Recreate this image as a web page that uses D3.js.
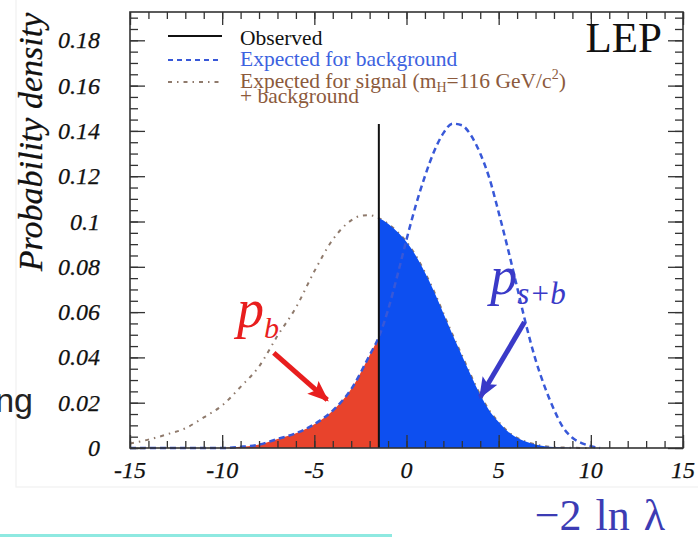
<!DOCTYPE html>
<html>
<head>
<meta charset="utf-8">
<script src="https://cdn.jsdelivr.net/npm/d3@7"></script>
<style>
  body { margin: 0; background: #fff; }
  svg text { font-family: "Liberation Serif", "Times New Roman", serif; }
</style>
</head>
<body>
<div id="plot_area"></div>
<script>
// values
var bgX = [-15,-10,-9,-8,-7,-6,-5,-4,-3,-2,-1.5,-1,-0.5,0,0.5,1,1.5,2,2.5,3,3.5,4,4.5,5,5.5,6,6.5,7,7.5,8,8.5,9,9.5,10,10.5];
var bgY = [0,0,0.0005,0.0015,0.004,0.0065,0.0105,0.0165,0.026,0.041,0.049,0.061,0.076,0.092,0.107,0.120,0.131,0.139,0.1432,0.1425,0.138,0.130,0.119,0.104,0.088,0.071,0.054,0.039,0.027,0.017,0.009,0.0045,0.0022,0.0008,0];
var sbX = [-15,-14,-13,-12,-11,-10,-9,-8,-7,-6,-5,-4,-3,-2.5,-2,-1.5,-1,-0.5,0,0.5,1,1.5,2,2.5,3,3.5,4,4.5,5,5.5,6,7,8,9,10];
var sbY = [0.002,0.0037,0.006,0.0087,0.0135,0.0188,0.027,0.036,0.0495,0.062,0.078,0.092,0.1005,0.1025,0.1028,0.1015,0.099,0.0955,0.091,0.085,0.0775,0.069,0.0595,0.050,0.041,0.032,0.0235,0.0165,0.0115,0.0073,0.0045,0.0016,0.0004,0.0001,0];
var observed = -1.5;
var observedTop = 0.143;
var xMajor = [-15,-10,-5,0,5,10,15];
var xLabels = ["-15","-10","-5","0","5","10","15"];
var yMajor = [0,0.02,0.04,0.06,0.08,0.1,0.12,0.14,0.16,0.18];
var yLabels = ["0","0.02","0.04","0.06","0.08","0.1","0.12","0.14","0.16","0.18"];
var legendNames = ["Observed","Expected for background","Expected for signal"];
// annotation arrows in data units: [x0, y0, x1, y1]
var pbArrow = [-7.2, 0.042, -4.3, 0.0212];
var psbArrow = [6.4, 0.0556, 4.0, 0.0225];

var W = 698, H = 537;
var svg = d3.select('#plot_area').append("svg")
  .attr("width", W).attr("height", H);

var x = d3.scaleLinear().domain([-15, 15]).range([130, 683]);
var y = d3.scaleLinear().domain([0, 0.1925]).range([448, 12]);

// faint slide panel + cyan rule
svg.append("rect").attr("x", 16).attr("y", -2).attr("width", 690).attr("height", 489)
  .attr("fill", "none").attr("stroke", "#f1f1f1").attr("stroke-width", 1.2);
svg.append("line").attr("x1", 0).attr("x2", 392).attr("y1", 535.5).attr("y2", 535.5)
  .attr("stroke", "#8ee9e1").attr("stroke-width", 3);

var bg = bgX.map(function(d, i) { return [d, bgY[i]]; });
var sb = sbX.map(function(d, i) { return [d, sbY[i]]; });

var line = d3.line().x(function(d){ return x(d[0]); }).y(function(d){ return y(d[1]); })
  .curve(d3.curveMonotoneX);
var area = d3.area().x(function(d){ return x(d[0]); }).y0(y(0)).y1(function(d){ return y(d[1]); })
  .curve(d3.curveMonotoneX);

// signal + background
svg.append("path").datum(sb).attr("d", line)
  .attr("fill", "none").attr("stroke", "#8f7a6c").attr("stroke-width", 2)
  .attr("stroke-dasharray", "4,5,1.5,5");

// p_b and p_s+b areas
svg.append("path").datum(bg.filter(function(d){ return d[0] <= observed; })).attr("d", area)
  .attr("fill", "#e8432c");
svg.append("path").datum(sb.filter(function(d){ return d[0] >= observed; })).attr("d", area)
  .attr("fill", "#0d4ff0");

// background
svg.append("path").datum(bg).attr("d", line)
  .attr("fill", "none").attr("stroke", "#3858d8").attr("stroke-width", 2.5)
  .attr("stroke-dasharray", "6,4");

// observed
svg.append("line").attr("x1", x(observed)).attr("x2", x(observed))
  .attr("y1", y(0)).attr("y2", y(observedTop))
  .attr("stroke", "#111").attr("stroke-width", 2);

// ticks on all four sides, pointing in
var xMinor = d3.range(-15, 15.01, 1);
var yMinor = d3.range(0, 0.1926, 0.005);
function ticks(axis, tx, ty, vals, size) {
  svg.append("g").attr("transform", "translate(" + tx + "," + ty + ")")
    .call(axis.tickValues(vals).tickSize(size).tickFormat(""))
    .call(function(g){ g.select(".domain").remove(); g.selectAll(".tick line").attr("stroke", "#333").attr("stroke-width", 1.3); });
}
ticks(d3.axisBottom(x), 0, 448, xMinor, -7);
ticks(d3.axisBottom(x), 0, 448, xMajor, -13);
ticks(d3.axisTop(x), 0, 12, xMinor, -7);
ticks(d3.axisTop(x), 0, 12, xMajor, -13);
ticks(d3.axisLeft(y), 130, 0, yMinor, -8);
ticks(d3.axisLeft(y), 130, 0, yMajor, -15);
ticks(d3.axisRight(y), 683, 0, yMinor, -8);
ticks(d3.axisRight(y), 683, 0, yMajor, -15);

svg.append("rect").attr("x", 130).attr("y", 12).attr("width", 553).attr("height", 436)
  .attr("fill", "none").attr("stroke", "#333").attr("stroke-width", 1.6);

// tick labels
svg.selectAll(".xl").data(xMajor).enter().append("text")
  .attr("x", function(d){ return x(d); }).attr("y", 478)
  .attr("text-anchor", "middle").attr("font-style", "italic").attr("font-size", 24)
  .attr("fill", "#111").attr("stroke", "#111").attr("stroke-width", 0.25)
  .text(function(d, i){ return xLabels[i]; });
svg.selectAll(".yl").data(yMajor).enter().append("text")
  .attr("x", 100).attr("y", function(d){ return y(d) + 8; })
  .attr("text-anchor", "end").attr("font-style", "italic").attr("font-size", 24)
  .attr("fill", "#111").attr("stroke", "#111").attr("stroke-width", 0.25)
  .text(function(d, i){ return yLabels[i]; });

// axis titles
svg.append("text").attr("transform", "translate(42,142) rotate(-90)")
  .attr("text-anchor", "middle").attr("font-style", "italic").attr("font-size", 34)
  .attr("fill", "#111").attr("stroke", "#111").attr("stroke-width", 0.25)
  .text("Probability density");
svg.append("text").attr("x", 665).attr("y", 530).attr("text-anchor", "end")
  .attr("font-size", 44).attr("word-spacing", 3).attr("fill", "#3c3cb4").text("\u22122 ln \u03bb");

svg.append("text").attr("x", 662).attr("y", 52).attr("text-anchor", "end")
  .attr("font-size", 43).attr("fill", "#111").text("LEP");

// legend
var lg = svg.append("g");
lg.append("line").attr("x1", 168).attr("x2", 222).attr("y1", 36).attr("y2", 36)
  .attr("stroke", "#111").attr("stroke-width", 2);
lg.append("line").attr("x1", 168).attr("x2", 222).attr("y1", 60).attr("y2", 60)
  .attr("stroke", "#3858d8").attr("stroke-width", 2).attr("stroke-dasharray", "5,4");
lg.append("line").attr("x1", 168).attr("x2", 222).attr("y1", 82).attr("y2", 82)
  .attr("stroke", "#8f7a6c").attr("stroke-width", 2).attr("stroke-dasharray", "4,5,1.5,5");
lg.append("text").attr("x", 240).attr("y", 45).attr("font-size", 21.5).attr("fill", "#111").text(legendNames[0]);
lg.append("text").attr("x", 240).attr("y", 66).attr("font-size", 21.5).attr("fill", "#3c62e0").text(legendNames[1]);
var sig = lg.append("text").attr("x", 240).attr("y", 88).attr("font-size", 21.5).attr("fill", "#8c5a3c");
sig.append("tspan").text(legendNames[2] + " (m");
sig.append("tspan").attr("font-size", 14).attr("dy", 4).text("H");
sig.append("tspan").attr("dy", -4).text("=116 GeV/c");
sig.append("tspan").attr("font-size", 14).attr("dy", -9).text("2");
sig.append("tspan").attr("dy", 9).text(")");
lg.append("text").attr("x", 240).attr("y", 103).attr("font-size", 21.5).attr("fill", "#8c5a3c").text("+ background");

// side text from the slide
svg.append("text").attr("x", 33).attr("y", 412).attr("text-anchor", "end")
  .style("font-family", "'Liberation Sans', Arial, sans-serif")
  .attr("font-size", 34).attr("fill", "#222").text("ng");

// arrows
var defs = svg.append("defs");
function head(id, col) {
  defs.append("marker").attr("id", id).attr("markerUnits", "userSpaceOnUse")
    .attr("viewBox", "0 0 20 16").attr("refX", 18).attr("refY", 8)
    .attr("markerWidth", 22).attr("markerHeight", 17).attr("orient", "auto")
    .append("path").attr("d", "M0,0L20,8L0,16L4,8Z").attr("fill", col);
}
head("hr", "#e81e1e");
head("hb", "#3a3ac8");
function arrow(a, col, id) {
  svg.append("line").attr("x1", x(a[0])).attr("y1", y(a[1]))
    .attr("x2", x(a[2])).attr("y2", y(a[3]))
    .attr("stroke", col).attr("stroke-width", 5).attr("marker-end", "url(#" + id + ")");
}
arrow(pbArrow, "#e81e1e", "hr");
arrow(psbArrow, "#3a3ac8", "hb");

// p labels
var pb = svg.append("text").attr("x", x(-9.2)).attr("y", y(0.0534))
  .attr("font-style", "italic").attr("font-size", 54).attr("fill", "#e81e1e");
pb.append("tspan").text("p");
pb.append("tspan").attr("font-size", 30).attr("dy", 11).text("b");
var psb = svg.append("text").attr("x", x(4.55)).attr("y", y(0.068))
  .attr("font-style", "italic").attr("font-size", 54).attr("fill", "#3a3ac8");
psb.append("tspan").text("p");
psb.append("tspan").attr("font-size", 31).attr("dy", 10).text("s+b");
</script>
</body>
</html>
